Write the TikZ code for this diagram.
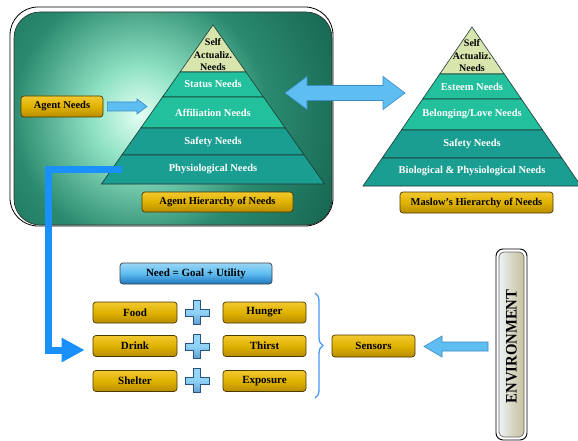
\documentclass[tikz,border=0pt]{standalone}
\usepackage{fontspec}
\setmainfont{Liberation Serif}
\usetikzlibrary{arrows.meta,calc,decorations.pathreplacing}
\definecolor{gdark}{HTML}{0B5040}
\definecolor{gmid}{HTML}{2A8A6E}
\definecolor{gpale}{HTML}{90E2C4}
\definecolor{glight}{HTML}{E4FFF4}
\definecolor{selfc}{HTML}{D8E6AE}
\definecolor{mintc}{HTML}{22C09C}
\definecolor{tealc}{HTML}{1A9E92}
\definecolor{pyrline}{HTML}{1C3A32}
\definecolor{lblue}{HTML}{5EBEF2}
\definecolor{lbluedraw}{HTML}{3A8CC4}
\definecolor{conn}{HTML}{1A90FA}
\definecolor{goldt}{HTML}{F2C830}
\definecolor{goldm}{HTML}{E0B200}
\definecolor{goldb}{HTML}{B88C00}
\definecolor{goldd}{HTML}{4A3A00}
\definecolor{needt}{HTML}{9AD6F6}
\definecolor{needb}{HTML}{1E74BC}
\definecolor{plusd}{HTML}{23557E}
\definecolor{envl}{HTML}{EEF4F8}
\definecolor{envr}{HTML}{C9C2A2}
\pgfdeclareradialshading{glow}{\pgfpoint{0bp}{0bp}}{color(0bp)=(glight); color(3bp)=(gpale);
  color(8bp)=(gmid); color(17bp)=(gdark); color(50bp)=(gdark)}
% layer: apex x, apex y, half base width, height, y1, y2, colour
\newcommand\pyrlayer[7]{\filldraw[fill=#7, draw=pyrline, line width=0.6pt]
  ({#1-#3*((#5-#2)/#4)},#5) -- ({#1+#3*((#5-#2)/#4)},#5) --
  ({#1+#3*((#6-#2)/#4)},#6) -- ({#1-#3*((#6-#2)/#4)},#6) -- cycle;}
% horizontal block arrow: from, to, shaft half, head half, signed head length
\newcommand\harrow[5]{\path[blockarrow] let \p1=(#1), \p2=(#2) in
  (\x1,\y1+#3pt) -- (\x2-#5pt,\y1+#3pt) -- (\x2-#5pt,\y1+#4pt) -- (\x2,\y1)
  -- (\x2-#5pt,\y1-#4pt) -- (\x2-#5pt,\y1-#3pt) -- (\x1,\y1-#3pt) -- cycle;}
\newcommand\plussign[1]{\path[plusstyle] (#1) ++(-3.5,-12) -- ++(7,0) -- ++(0,8.5) -- ++(8.5,0)
  -- ++(0,7) -- ++(-8.5,0) -- ++(0,8.5) -- ++(-7,0) -- ++(0,-8.5) -- ++(-8.5,0) -- ++(0,-7)
  -- ++(8.5,0) -- cycle;}
\begin{document}
\begin{tikzpicture}[x=1pt,y=-1pt,
  goldbox/.style={draw=goldd, line width=0.7pt, rounded corners=3pt,
    top color=goldt, bottom color=goldb, middle color=goldm,
    font=\bfseries\fontsize{10.5}{12}\selectfont, inner sep=0pt},
  lowbox/.style={goldbox, minimum width=84pt, minimum height=21pt,
    font=\bfseries\fontsize{11}{12}\selectfont},
  pyrtext/.style={font=\bfseries\fontsize{10.5}{12}\selectfont, text=white, inner sep=0pt},
  selftext/.style={font=\bfseries\fontsize{10}{12.5}\selectfont, align=center, inner sep=0pt},
  blockarrow/.style={fill=lblue, draw=lbluedraw, line width=0.6pt, line join=miter},
  plusstyle/.style={draw=plusd, line width=0.8pt, top color=needt, bottom color=needb!70, middle color=lblue!70}]
\useasboundingbox (0,0) rectangle (578,441);
\fill[white] (0,0) rectangle (578,441);

% green panel
\draw[black, line width=0.8pt, rounded corners=28pt] (10,7) rectangle (333,226);
\begin{scope}
  \clip[rounded corners=26pt] (14,12) rectangle (332,225);
  \fill[gdark] (14,12) rectangle (332,225);
  \shade[shading=glow] (140,115) circle (400);
\end{scope}
\draw[rounded corners=26pt, draw=black!80, line width=0.6pt] (14,12) rectangle (332,225);

% left pyramid  (apex 213,25 ; half base 111.5 ; height 159)
\pyrlayer{213}{25}{111.5}{159}{25}{72}{selfc}
\pyrlayer{213}{25}{111.5}{159}{72}{97}{mintc}
\pyrlayer{213}{25}{111.5}{159}{97}{128}{mintc}
\pyrlayer{213}{25}{111.5}{159}{128}{155}{tealc}
\pyrlayer{213}{25}{111.5}{159}{155}{184}{tealc}
\node[selftext] (lself) at (213,55) {Self\\Actualiz.\\Needs};
\node[pyrtext] (lstatus) at (213,84) {Status Needs};
\node[pyrtext] (laff) at (213,112.5) {Affiliation Needs};
\node[pyrtext] (lsafe) at (213,141.5) {Safety Needs};
\node[pyrtext] (lphys) at (213,169) {Physiological Needs};

% right pyramid (apex 472,27 ; half base 109 ; height 159)
\pyrlayer{472}{27}{109}{159}{27}{74}{selfc}
\pyrlayer{472}{27}{109}{159}{74}{99}{mintc}
\pyrlayer{472}{27}{109}{159}{99}{130}{mintc}
\pyrlayer{472}{27}{109}{159}{130}{158}{tealc}
\pyrlayer{472}{27}{109}{159}{158}{186}{tealc}
\node[selftext] (rself) at (472,56) {Self\\Actualiz.\\Needs};
\node[pyrtext] (resteem) at (472,87) {Esteem Needs};
\node[pyrtext] (rbelong) at (472,114.5) {Belonging/Love Needs};
\node[pyrtext] (rsafe) at (472,144) {Safety Needs};
\node[pyrtext] (rbio) at (472,171.5) {Biological \& Physiological Needs};

% labels under pyramids
\node[goldbox, minimum width=151pt, minimum height=20pt] (ahn) at (217.5,202) {Agent Hierarchy of Needs};
\node[goldbox, minimum width=153pt, minimum height=21pt] (mhn) at (476.5,202.5) {Maslow's Hierarchy of Needs};
\node[goldbox, minimum width=82pt, minimum height=21pt] (agent) at (62,106.5) {Agent Needs};

% arrows in the upper part
\coordinate (agtail) at ($(agent.east)+(4,0)$);
\coordinate (agtip) at (147,106.5);
\harrow{agtail}{agtip}{4.5}{7.5}{10}
\coordinate (dl) at (285,93);
\coordinate (dr) at (405,93);
\path[blockarrow] let \p1=(dl), \p2=(dr) in
  (\x1,\y1) -- (\x1+22pt,\y1+16.5pt) -- (\x1+22pt,\y1+7.5pt) -- (\x2-22pt,\y1+7.5pt)
  -- (\x2-22pt,\y1+16.5pt) -- (\x2,\y1) -- (\x2-22pt,\y1-16.5pt) -- (\x2-22pt,\y1-7.5pt)
  -- (\x1+22pt,\y1-7.5pt) -- (\x1+22pt,\y1-16.5pt) -- cycle;

% lower part
\node[draw=black!75, line width=0.7pt, rounded corners=3pt, top color=needt, bottom color=needb,
  middle color=lblue, minimum width=152pt, minimum height=21pt, inner sep=0pt,
  font=\bfseries\fontsize{11}{12}\selectfont] (need) at (196,273.5) {Need = Goal + Utility};
\node[lowbox] (food) at (135,312.5) {Food};
\node[lowbox] (drink) at (135,346) {Drink};
\node[lowbox] (shelter) at (135,381) {Shelter};
\node[lowbox, minimum width=83pt] (hunger) at (264.5,312.5) {Hunger};
\node[lowbox, minimum width=83pt] (thirst) at (264.5,346) {Thirst};
\node[lowbox, minimum width=83pt] (exposure) at (264.5,381) {Exposure};
\coordinate (p1) at (197,312.5);
\coordinate (p2) at (197,346.5);
\coordinate (p3) at (197,380.5);
\plussign{p1}
\plussign{p2}
\plussign{p3}
\coordinate (btop) at (315,293);
\coordinate (bbot) at (315,398);
\draw[lblue!80!blue, line width=1.3pt, decorate, decoration={brace, amplitude=8pt}] (btop) -- (bbot);
\node[lowbox, minimum width=83pt, minimum height=22pt] (sensors) at (373.5,346) {Sensors};

% environment
\draw[black, line width=0.9pt, rounded corners=7pt] (496,249) rectangle (527,440);
\draw[black!60, line width=0.7pt, rounded corners=5pt, left color=envl, right color=envr,
  middle color=envr!60!envl] (499,252) rectangle (524,437);
\node[rotate=90, inner sep=0pt, font=\bfseries\fontsize{16}{16}\selectfont] (env) at (511.5,346.5)
  {\scalebox{0.92}[1]{ENVIRONMENT}};
\coordinate (envtail) at (488,346.5);
\coordinate (envtip) at (424,346.5);
\harrow{envtail}{envtip}{4.5}{10.5}{-18}

% blue connector from physiological layer to Drink
\coordinate (cstart) at (122,169);
\coordinate (ccorner) at (48.5,169);
\draw[conn, line width=7pt, line join=miter, -{Triangle[length=23pt,width=23pt]}]
  (cstart) -- (ccorner) |- ($(drink.west)+(-8,4)$);
\end{tikzpicture}
\end{document}
